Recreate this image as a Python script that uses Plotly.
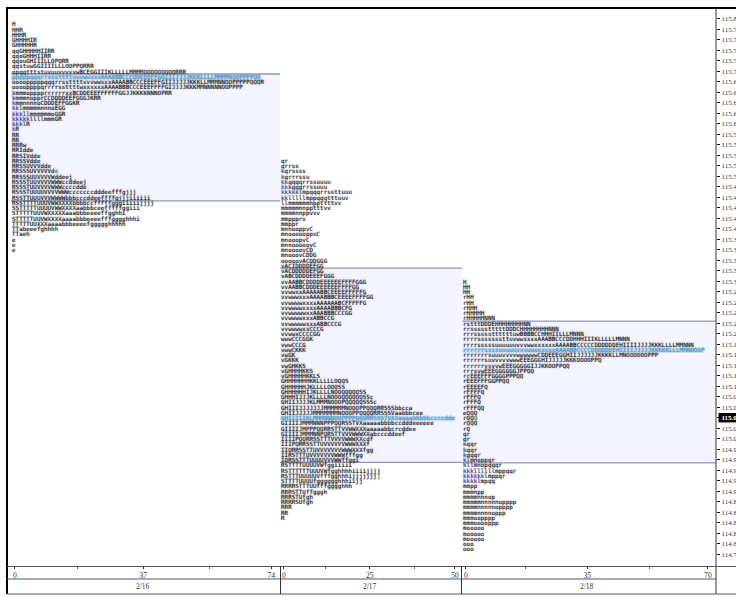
import plotly.graph_objects as go

# ---- data ----
day_labels = ["2/16", "2/17", "2/18"]
day_axis_max = [74, 50, 70]
top_prices = [115.79, 115.53, 115.30]
poc_prices = [115.69, 115.04, 115.17]
va_high = [115.6947, 115.325, 115.224]
va_low = [115.453, 114.955, 114.954]
current_price = 115.04

profile_1 = [
"H","HHR","HHHR","GHHHHIR","GHHHHHR","qqGHHHHHIIRR","qqoGHHHIIRR","qqouGHIIILLOPQRR",
"qqstuwGGIIIILLLOOPPQRRR","opqqtttstuvuuvvvvvwBCEGGIIIKLLLLLMMMMOOOOOQQQQRRR",
"pppppqqqrrsssttttuuvwwxxxAAAABBCCCDDEEEFFGGIIIJJJJKKKLLLLMMMMNOOPPPPQQ",
"oooopppppqqqrrssttttvvvwwxxxAAAABBCCCEEEFFGIIJJJJJKKKLLMMMNNOOPPPPPQQQR",
"ooooppppqrrrrssttttwxxxxxxAAAABBBCCCEEEFFFFGIJJJJKKKMMNNNNNOOPPPP",
"kmmmopppprrrrrrxxBCDDEEEFFFFFFGGJJKKKKNNNOPRR","kmmmnopprCCDDDDEEFGGGJKRR","kmmnnnnoCDDDEFFGGKR",
"kklmmmmmnnnoEGG","kkkllmmmmmmoGGR","kkkkkllllmmmGR","kkklR","kR","RR","RR","RRRw","RRIdde","RRSIVdde","RRSSVdde",
"RRSSUVVVdde","RRSSSUVVVVVde","RRSSSUUVVVVWddeej","RSSSTUUVVVVWWWccddeej","RSSSTUUVVVVWWWccccdde",
"RSSSTUUUUVVVVWWWcccccccdddeefffgjjj","RSSTTUUUVVVWWWWbbbcccddeeffffgjjjiiiiii",
"RSSTTTTUUUVWWXXXXbbbbccfffffgggiiiiijjjj","SSTTTTTUUUUVWWXXXXaabbbceefffffggiii",
"STTTTTUUVWXXXXXaaabbbeeeeffgghhi","STTTTTUUVWXXXXaaaabbbeeeefffgggghhhi","TTTTTUUXXXaaaabbbeeeefggggghhhhh",
"TTabeeefghhhh","TTaeh","e","e","e",
]
profile_2 = [
"qr","qrrss","kqrssss","kqrrrssu","kkqqqqrrssuuuu","kkkqqqrrssuuu","kkkkklmpqqqrrssttuuu","kklllllmppqqqtttuuv",
"llmmmmmmnppttttvv","mmmmmnnpptttvv","mmmmnnppvvv","mmppprv","mmppr","mnnooppvC","mnoooooppvC","mnooopvC",
"mnnooooovC","mnoooovCD","mnooovCDDG","ooooovACDDGGG","vACIDDDDEFGG","vACDDDDDEFGG","vABCDDDDEEEFGGG",
"vvAABBCDDDDEEEEEEFFFFGGG","vvAABBCDDDEEEEEEFFFFGG","vvwwxxAAAAABBCEEEEFFFFFG","vvwwwxxxAAAABBBCEEEEFFFFGG",
"vvwwwwxxxxAAAAAABCFFFFFG","vvwwwwxxxxAAAABBBCFG","vvwwwwwxxAAABBBCCCGG","vvwwwwxxxABBCCG","vvwwwwwxxxABBCCCG",
"vvwwwwxxCCCG","vvwwxCCCCGG","wwwCCCGGK","vwwCCCG","vwwCKKK","vwGK","vGKKK","vwGHKKS","vGHHHHKKS","vGHHHHHKKLS",
"GHHHHHHHKKLLLLLOQQS","GHHHHHHJKLLLLOOQSS","GHHHHHHIJKLLLLNOOQQQQQSS","GHHHIJJJKLLLLNOOOQQQQQQSSc",
"GHIIJJJJKLMMMNOOOPQQQQQSSSc","GHIIIJJJJJJJMMMMMMNOOOPPQQQRRSSSbbcca","GHIIJJJJJMMMMMMMNOOOPPQQQQRRSSSVaabbbcee",
"GHIIIIIKLMMMNNNOOPPPPQQQRRSSSTVXXaaaabbbbbccccdde","GIIIIJMMMNNNPPPQQRSSTVXaaaaabbbbccdddeeeeee",
"GIIIIJMPPPQQRRSTTVVWWXXXaaaaabbcrcddee","GIIIIJMMMNNPQRSTTVVVWWWXXabcccddeef","IIIIPQQRRSSTTTVVVVWWWXXcdf",
"IIIPQRRSSTTUVVVVVVWWWXXXf","IIQRRSSTTUVVVVVVVWWWXXXfgg","IIRSTTTUVVVVVVVWWWfffgg","IQRSSTTTUUUUVVVWWffggi",
"RSTTTTUUUUVWfggiiiii","RSTTTTTTUUUVWfgghhhhiiiijjjj","RSTTTUUUUUVfffgghhhijjjjjjjj","STTTTUUUUfgggggghhhiijj",
"RRRRSTTTUUfffgggghhh","RRRSTTUffgggh","RRRSTUfgh","RRRRSUfgh","RRR","RR","R",
]
profile_3 = [
"H","HH","HH","rHH","rHH","rHHH","rHHHHH","rHHHHHNNN","rstttDDDEHHHHHHHHNN","rrssssstttttDDDCHHHHHHHHNNN",
"rrrsssssttttttuwBBBBCCHHHIILLLMNNN","rrrrsssssssttuvwwxxxxAAABBCCCDDHHHIIIKLLLLLMNNN",
"rrrrsssssuuuuuuvvvwwxxxxxxAAAABBCCCCCDDDDDDEHIIIIJJJJKKKLLLLMMNNN",
"rrrrrrssssuuuuuvvvwwwxxxxxAAAABBCCCCDDDDDDEHIIIIJJJJJKKKKKLLLMMNOOOP",
"rrrrrrrsuuuvvvvwwwwwwCDDEEEGGHIIJJJJJJKKKKLLMNOOOOOOPPP","rrrrrrsuvvvvvwwwEEEGGGHIJJJJJKKKOOOOPPQ",
"rrrrrrvvvvwEEEGGGGGIJJKKOOPPQQ","rrrsvwEEEGGGGGGJPPQQ","rrEEEFFFGGGGPPPQQ","rEEEFFFGGPPQQ","rEEEEFQ","rFFFFQ",
"rFFFQ","rFFFQ","rFFFQQ","eQQQ","rQQQ","rQQQ","rQ","qr","qr","kqqr","kqqr","kqqqr","klmnoppqr","kllmnopqqqr",
"kkkllllllmppqqr","kkkkkklmppqr","kkkklmpqq","mmpp","mmmnpp","mmmmnnnop","mmmmmnnnnnopppp","mmmmnnnnnopppp","mmmmnnnnoppp",
"mmmoopppp","mmmooooppp","mooooo","mooooo","mooooo","ooo","ooo",
]
profiles = [profile_1, profile_2, profile_3]
accent_rows = [28, 60, 26]

price_ticks = [round(115.80 - 0.02 * i, 2) for i in range(52)]

# ---- scale constants (pixels <-> axis units) ----
W, H = 736, 597
L, R, T, B = 7, 716, 9, 566
UNIT = 3.55
x_range = [-(12 - L) / UNIT, (R - 12) / UNIT]
y_range = [114.7575, 115.8185]
offsets = [0, (281 - 12) / UNIT, (463 - 12) / UNIT]
NUDGE = 0.002   # rows sit about a pixel below their price tick

TXT = "#1c1c24"
POC_TXT = "#4aa8ea"
colors = {"k": "#3030c0", "l": "#4a3a44"}
MONO = "DejaVu Sans Mono"
SHADOW = "0px 0px 1.2px rgba(70,70,80,0.85)"

fig = go.Figure()
shapes = []
ends = [offsets[1] - 0.3, offsets[2] - 0.2, x_range[1]]
for p, rows in enumerate(profiles):
    xs, ys, ts, cs = [], [], [], []
    poc_idx = round((top_prices[p] - poc_prices[p]) / 0.01)
    for r, row in enumerate(rows):
        price = top_prices[p] - 0.01 * r - NUDGE
        for c, ch in enumerate(row):
            xs.append(offsets[p] + c + 0.5)
            ys.append(price)
            ts.append(ch)
            if r == poc_idx:
                cs.append(POC_TXT)
            elif r == accent_rows[p] and c == len(row) - 1:
                cs.append("#129a8e")
            else:
                cs.append(colors.get(ch, TXT))
    fig.add_trace(go.Scatter(x=xs, y=ys, text=ts, mode="text", hoverinfo="skip", showlegend=False,
                             textposition="middle center",
                             textfont=dict(family=MONO, size=5.8, color=cs, shadow=SHADOW)))
    # value area
    shapes.append(dict(type="rect", xref="x", yref="y", x0=offsets[p] - 0.2, x1=ends[p], y0=va_low[p], y1=va_high[p],
                       fillcolor="#f3f4fe", line_width=0, layer="below"))
    poc_len = len(rows[poc_idx])
    shapes.append(dict(type="rect", xref="x", yref="y", x0=offsets[p] - 0.2, x1=offsets[p] + poc_len,
                       y0=poc_prices[p] - 0.005 - NUDGE, y1=poc_prices[p] + 0.005 - NUDGE,
                       fillcolor="#cfe7fa", line_width=0, layer="below"))
    for v in (va_high[p], va_low[p]):
        shapes.append(dict(type="line", xref="x", yref="y", x0=offsets[p] - 0.2, x1=ends[p], y0=v, y1=v,
                           line=dict(color="#8d98bf", width=1.3), layer="below"))

# frame + lower strip, in paper coordinates
def py(pix):
    return 1 - (pix - T) / (B - T)
def px(pix):
    return (pix - L) / (R - L)
GRAY = "#55585c"
shapes += [
    dict(type="line", xref="paper", yref="paper", x0=px(6), x1=px(736), y0=py(8), y1=py(8), line=dict(color="#000", width=2)),
    dict(type="line", xref="paper", yref="paper", x0=px(7), x1=px(7), y0=py(8), y1=py(594), line=dict(color="#000", width=2)),
    dict(type="line", xref="paper", yref="paper", x0=px(716), x1=px(716), y0=py(8), y1=py(594), line=dict(color="#333", width=1)),
    dict(type="line", xref="paper", yref="paper", x0=px(7), x1=px(736), y0=py(566.5), y1=py(566.5), line=dict(color=GRAY, width=1)),
    dict(type="line", xref="paper", yref="paper", x0=px(7), x1=px(716), y0=py(579), y1=py(579), line=dict(color=GRAY, width=1)),
    dict(type="line", xref="paper", yref="paper", x0=px(7), x1=px(736), y0=py(594), y1=py(594), line=dict(color=GRAY, width=1)),
    dict(type="rect", xref="paper", yref="y", x0=px(718.5), x1=px(736), y0=current_price - 0.009, y1=current_price + 0.009,
         fillcolor="#000", line_width=0, layer="below"),
]
for d in (280.5, 461.5):
    shapes.append(dict(type="line", xref="paper", yref="paper", x0=px(d), x1=px(d), y0=py(566), y1=py(594), line=dict(color="#333", width=1)))

tickvals, ticktext, minor = [], [], []
for p, m in enumerate(day_axis_max):
    tickvals += [offsets[p] + 0.8, offsets[p] + m / 2, offsets[p] + m - 1]
    ticktext += ["0", str(m // 2), str(m)]
    minor += [offsets[p] + m / 4, offsets[p] + 3 * m / 4]

annotations = []
for p, lab in enumerate(day_labels):
    annotations.append(dict(text=lab, xref="x", yref="paper", x=offsets[p] + day_axis_max[p] / 2, y=py(586.5),
                            yanchor="middle", showarrow=False, font=dict(family="Liberation Serif", size=7.5, color="#333")))

price_text = [f"{v:.2f}" if v != current_price else f'<span style="color:#fff"><b>{v:.2f}</b></span>' for v in price_ticks]

fig.update_layout(
    width=W, height=H, autosize=False, paper_bgcolor="#fff", plot_bgcolor="#fff",
    margin=dict(l=L, r=W - R, t=T, b=H - B, pad=0, autoexpand=False), showlegend=False,
    shapes=shapes, annotations=annotations,
    xaxis=dict(range=x_range, automargin=False, showgrid=False, zeroline=False, showline=False, tickmode="array", tickvals=tickvals,
               ticktext=ticktext, ticks="outside", ticklen=2, tickcolor="#222", tickwidth=1,
               tickfont=dict(family="Liberation Serif", size=7.5, color="#333"),
               minor=dict(tickmode="array", tickvals=minor, ticks="outside", ticklen=1.5, tickcolor="#666")),
    yaxis=dict(range=y_range, automargin=False, side="right", showgrid=False, zeroline=False, showline=False, tickmode="array",
               tickvals=price_ticks, ticktext=price_text, ticks="outside", ticklen=3,
               tickcolor="#111", tickwidth=1.2, tickfont=dict(family="Liberation Serif", size=7, color="#333")),
)
fig.write_html("out.html", config={"displayModeBar": False},
               post_script="document.body.style.margin='0';document.documentElement.style.overflow='hidden';")
